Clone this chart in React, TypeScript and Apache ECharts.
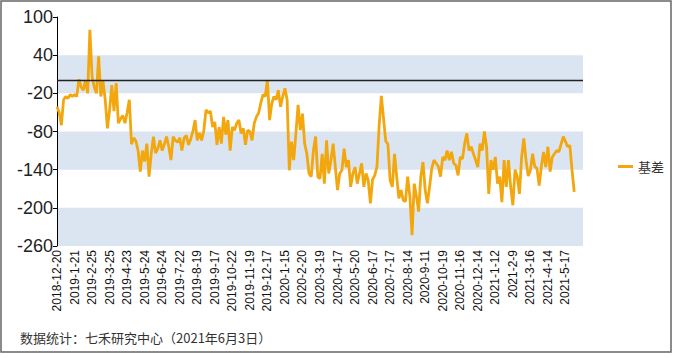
import React, { useEffect, useRef } from 'react';
import * as echarts from 'echarts';

const labelDates = [
  '2018-12-20', '2019-1-21', '2019-2-25', '2019-3-25', '2019-4-23', '2019-5-24',
  '2019-6-24', '2019-7-22', '2019-8-19', '2019-9-17', '2019-10-22', '2019-11-19',
  '2019-12-17', '2020-1-15', '2020-2-20', '2020-3-19', '2020-4-17', '2020-5-20',
  '2020-6-17', '2020-7-17', '2020-8-14', '2020-9-11', '2020-10-19', '2020-11-16',
  '2020-12-14', '2021-1-12', '2021-2-9', '2021-3-16', '2021-4-14', '2021-5-17',
];
const pointsPerLabel = 8;
const totalCategories = 241;

const basis = [
  -41, -50, -70, -30, -25, -28, -22, -25, -22, -25,
  2, -10, -15, 0, -20, 80, 6, -10, -20, 38,
  -25, -1, -30, -75, -46, -7, -48, -4, -67, -60,
  -55, -67, -50, -30, -100, -90, -95, -110, -143, -110,
  -127, -99, -151, -115, -88, -114, -107, -94, -110, -100,
  -88, -104, -125, -88, -94, -97, -90, -110, -90, -86,
  -101, -92, -80, -62, -94, -82, -94, -78, -46, -51,
  -48, -73, -65, -101, -73, -99, -57, -85, -62, -110,
  -73, -78, -67, -62, -83, -75, -101, -78, -80, -94,
  -67, -57, -51, -35, -22, -25, 1, -62, -36, -25,
  -30, -15, -41, -25, -12, -30, -141, -96, -125, -83,
  -38, -78, -52, -99, -115, -146, -151, -110, -88, -151,
  -154, -115, -162, -94, -146, -125, -99, -136, -172, -146,
  -141, -107, -136, -125, -167, -146, -136, -162, -146, -130,
  -167, -146, -157, -193, -155, -149, -135, -70, -24, -60,
  -95, -100, -157, -167, -115, -151, -185, -172, -188, -190,
  -151, -182, -243, -162, -182, -206, -151, -128, -172, -193,
  -167, -138, -125, -130, -135, -151, -120, -125, -110, -125,
  -112, -130, -133, -149, -120, -123, -99, -83, -110, -104,
  -115, -125, -136, -99, -110, -80, -104, -178, -125, -140,
  -120, -162, -151, -191, -125, -167, -125, -167, -196, -140,
  -151, -178, -120, -91, -125, -150, -141, -115, -135, -138,
  -165, -135, -112, -136, -104, -143, -120, -115, -110, -112,
  -100, -88, -96, -104, -102, -141, -175,
];

const yMin = -260;
const yMax = 100;
const yStep = 60;
const seriesName = '基差';
const footerText = '数据统计：七禾研究中心（2021年6月3日）';

const categories: string[] = [];
for (let i = 0; i < totalCategories; i++) {
  const k = i / pointsPerLabel;
  categories.push(i % pointsPerLabel === 0 && k < labelDates.length ? labelDates[k] : '');
}

export default function App() {
  const ref = useRef<HTMLDivElement>(null);
  useEffect(() => {
    document.body.style.margin = '0';
    const chart = echarts.init(ref.current!, null, { renderer: 'svg' });
    chart.setOption({
      animation: false,
      backgroundColor: '#ffffff',
      grid: { left: 57, right: 91, top: 17, bottom: 112, containLabel: false },
      legend: {
        data: [seriesName],
        left: 618,
        top: 160,
        padding: 0,
        icon: 'rect',
        itemWidth: 15,
        itemHeight: 3,
        textStyle: { fontSize: 13, color: '#333', fontFamily: 'Noto Sans CJK SC' },
      },
      xAxis: {
        type: 'category',
        boundaryGap: false,
        data: categories,
        axisLine: { show: false },
        axisTick: { show: false },
        splitLine: { show: false },
        axisLabel: {
          rotate: 90,
          interval: (_i: number, v: string) => v !== '',
          fontSize: 12,
          color: '#111',
          margin: 4,
          fontFamily: 'Liberation Sans, Arial, sans-serif',
        },
      },
      yAxis: {
        type: 'value',
        min: yMin,
        max: yMax,
        interval: yStep,
        axisLine: { show: true, lineStyle: { color: '#000', width: 1 } },
        axisTick: { show: true, length: 4, lineStyle: { color: '#000' } },
        axisLabel: {
          fontSize: 18,
          color: '#222',
          margin: 4,
          fontFamily: 'Liberation Sans, Arial, sans-serif',
        },
        splitLine: { show: false },
        splitArea: { show: true, areaStyle: { color: ['#dbe5f1', 'rgba(255,255,255,0)'] } },
      },
      series: [
        {
          name: seriesName,
          type: 'line',
          data: basis,
          symbol: 'none',
          showSymbol: false,
          color: '#f2a70e',
          lineStyle: { color: '#f2a70e', width: 2.8 },
          markLine: {
            silent: true,
            symbol: 'none',
            label: { show: false },
            lineStyle: { color: '#222', width: 1.3, type: 'solid' },
            data: [{ yAxis: 0 }],
          },
        },
      ],
      graphic: [
        {
          type: 'rect',
          shape: { x: 1, y: 1, width: 670, height: 351 },
          style: { fill: 'none', stroke: '#666', lineWidth: 1.5 },
          silent: true,
        },
        {
          type: 'text',
          left: 20,
          top: 331,
          style: {
            text: footerText,
            fontSize: 13,
            fill: '#333',
            fontFamily: 'Noto Sans CJK SC',
          },
        },
      ],
    });
    return () => chart.dispose();
  }, []);
  return <div ref={ref} style={{ width: 674, height: 358 }} />;
}
